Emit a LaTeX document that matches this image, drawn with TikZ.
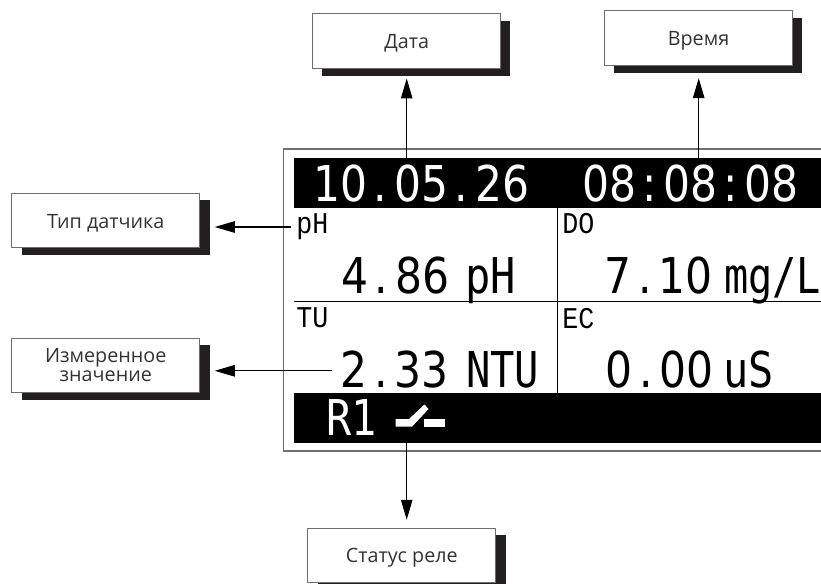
\documentclass[tikz,border=0pt]{standalone}
\usepackage{fontspec}
\setmainfont{Liberation Sans}
\newfontfamily\lcdthin{Liberation Mono}
\newfontfamily\lcd{DejaVu Sans Mono}
\newfontfamily\lcddigits{DejaVu Sans}
\newfontfamily\labelfont{Open Sans}
\usetikzlibrary{arrows.meta}
\definecolor{shadowc}{HTML}{231F20}
\definecolor{framec}{HTML}{6E6E6E}
\tikzset{
  x=0.75pt,y=-0.75pt,
  calloutbox/.style={draw=framec,line width=0.7pt,fill=white,minimum width=141pt,minimum height=40.9pt,inner sep=0pt,align=center,font=\labelfont\fontsize{14.8}{14.25}\selectfont,text=black!80},
  shadowbox/.style={fill=shadowc,draw=none,minimum width=141pt,minimum height=41.2pt,inner sep=0pt},
  conn/.style={line width=0.8pt,draw=black,-{Triangle[length=15pt,width=8.6pt,sep=0pt]}},
  bigwhite/.style={anchor=base west,inner sep=0pt,text=white,font=\lcd\fontsize{37}{37}\selectfont},
  bigblack/.style={anchor=base west,inner sep=0pt,text=black,font=\lcd\fontsize{37}{37}\selectfont},
  small/.style={anchor=base west,inner sep=0pt,text=black,font=\lcdthin\fontsize{20}{20}\selectfont},
}
\newcommand{\squeezed}[2]{\scalebox{#1}[1]{#2}}
\newcommand{\lcdnum}[1]{\scalebox{0.86}[1]{\lcddigits #1}}
\newcommand{\dotc}{\makebox[0.636em][c]{.}}
\newcommand{\colc}{\makebox[0.636em][c]{:}}
\newcommand{\smalltxt}[1]{\scalebox{1}[1.13]{#1}}
\newcommand{\lowered}[1]{\raisebox{-2pt}[\height][\depth]{#1}}
\begin{document}
\begin{tikzpicture}
\useasboundingbox (0,0) rectangle (821,583);
\begin{scope}
\clip (0,0) rectangle (821,583);
% panel
\draw[framec,line width=0.8pt] (825,149) -- (283.5,149) -- (283.5,451) -- (825,451);
\fill[black] (294,158) rectangle (821,208);
\fill[black] (294,393) rectangle (821,443);
\draw[black,line width=1.2pt] (294,301.5) -- (821,301.5);
\draw[black,line width=1.2pt] (557.3,208) -- (557.3,393);
% text in panel
\node[bigwhite] (date) at (313,201.5) {\lcdnum{10\dotc 05\dotc 26}};
\node[bigwhite] (time) at (582,201.5) {\lcdnum{08\colc 08\colc 08}};
\node[small] (s1) at (296,233) {\smalltxt{pH}};
\node[small] (s2) at (562,233.5) {\smalltxt{DO}};
\node[small] (s3) at (296,327) {\smalltxt{TU}};
\node[small] (s4) at (562,328) {\smalltxt{EC}};
\node[bigblack] (v1) at (341,293) {\lcdnum{4\dotc 86}};
\node[bigblack] (u1) at (465,293) {\squeezed{0.85}{pH}};
\node[bigblack] (v2) at (604.6,293) {\lcdnum{7\dotc 10}};
\node[bigblack] (u2) at (724,293) {\squeezed{0.815}{mg/L}};
\node[bigblack] (v3) at (340,387) {\lcdnum{2\dotc 33}};
\node[bigblack] (u3) at (466,387) {\squeezed{0.82}{NTU}};
\node[bigblack] (v4) at (605,387) {\lcdnum{0\dotc 00}};
\node[bigblack] (u4) at (723,387) {\squeezed{0.85}{uS}};
\node[bigwhite] (r1) at (326,435.5) {\squeezed{0.85}{R1}};
% relay symbol
\fill[white] (395.7,419) -- (409,419) -- (424.5,404.5) -- (428.5,409) -- (412,426.7) -- (395.7,426.7) -- cycle;
\fill[white] (424,419) rectangle (445,426.7);
% callouts
\node[shadowbox] (sh1) at (116,227.5) {};
\node[calloutbox] (b1) at (105.75,220.6) {\lowered{Тип датчика}};
\node[shadowbox] (sh2) at (116,372.5) {};
\node[calloutbox] (b2) at (105.75,365.5) {\lowered{\begin{tabular}{@{}c@{}}Измеренное\\значение\end{tabular}}};
\node[shadowbox] (sh3) at (416,48.5) {};
\node[calloutbox] (b3) at (406.7,40.75) {\lowered{Дата}};
\node[shadowbox] (sh4) at (708,45.5) {};
\node[calloutbox] (b4) at (698.5,37.75) {\lowered{Время}};
\node[shadowbox] (sh5) at (412,562.5) {};
\node[calloutbox] (b5) at (401.8,555.5) {\lowered{Статус реле}};
\coordinate (c1) at (406.7,158);
\coordinate (c2) at (698.7,158);
\coordinate (c3) at (406.7,443);
\coordinate (c4) at (291,227);
\coordinate (c5) at (331.5,370.8);
\draw[conn,shorten >=7.5pt] (c1) -- (c1 |- b3.south);
\draw[conn,shorten >=9.5pt] (c2) -- (c2 |- b4.south);
\draw[conn,shorten >=6pt] (c3) -- (c3 |- b5.north);
\draw[conn,shorten >=10.9pt] (c4) -- (c4 -| b1.east);
\draw[conn,shorten >=10.9pt] (c5) -- (c5 -| b2.east);
\end{scope}
\end{tikzpicture}
\end{document}
